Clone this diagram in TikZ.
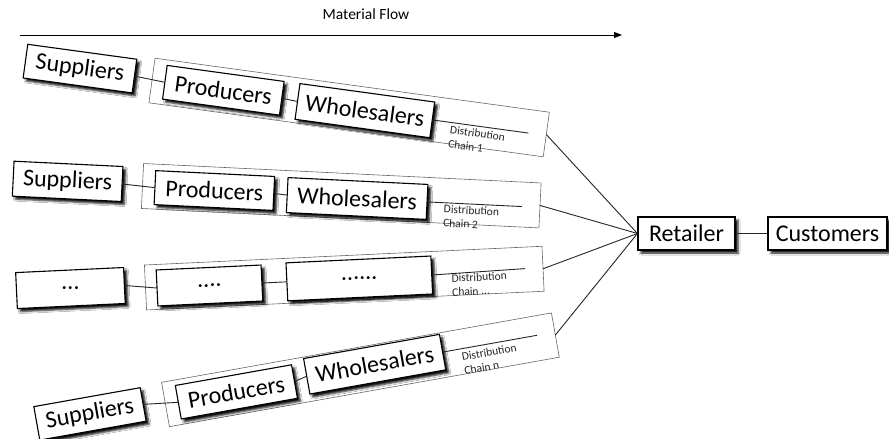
\documentclass[tikz,border=0pt]{standalone}
\usepackage{fontspec}
\setmainfont{Carlito}
\usetikzlibrary{shadows.blur,arrows.meta}
\begin{document}
\begin{tikzpicture}[x=1pt,y=-1pt,
  box/.style={draw=black,line width=1.1pt,fill=white,inner sep=0pt,
    font=\fontsize{24}{27}\selectfont,
    blur shadow={shadow xshift=3pt,shadow yshift=-3pt,shadow blur radius=2pt,shadow opacity=95}},
  frame/.style={draw=black!60,line width=0.6pt},
  link/.style={draw=black!85,line width=0.9pt},
  chainlbl/.style={font=\fontsize{11.5}{14}\selectfont,align=left,inner sep=0pt,anchor=north west,text=black!85},
]
\useasboundingbox[fill=white] (0,0) rectangle (889,439);

% Material flow
\node[font=\fontsize{15.5}{18}\selectfont,inner sep=0pt] (mf) at (366,14) {Material Flow};
\coordinate (mfa) at (20,35);
\coordinate (mfb) at (622,35);
\draw[line width=0.9pt,-{Triangle[length=8pt,width=6pt]}] (mfa) -- (mfb);

% Chain 1
\begin{scope}[shift={(152,80.5)},rotate=-7.8,transform shape]
  \draw[frame] (0,-22.5) rectangle (398,22.5);
  \node[box,minimum width=110pt,minimum height=34pt] (s1) at (-73,-2) {Suppliers};
  \node[box,minimum width=118pt,minimum height=34pt] (p1) at (72,0) {Producers};
  \node[box,minimum width=136pt,minimum height=36pt] (w1) at (215,1) {Wholesalers};
  \coordinate (l1) at (380,1);
  \coordinate (c1) at (398,0);
  \node[chainlbl] (d1) at (302,4) {Distribution\\Chain 1};
  \draw[link] (s1.east) -- (p1.west);
  \draw[link] (p1.east) -- (w1.west);
  \draw[link] (w1.east) -- (l1);
\end{scope}

% Chain 2
\begin{scope}[shift={(142.5,186)},rotate=-2.8,transform shape]
  \draw[frame] (0,-22.5) rectangle (398,22.5);
  \node[box,minimum width=109pt,minimum height=35pt] (s2) at (-75,-1) {Suppliers};
  \node[box,minimum width=119pt,minimum height=34pt] (p2) at (72,1) {Producers};
  \node[box,minimum width=140pt,minimum height=35pt] (w2) at (215,2) {Wholesalers};
  \coordinate (l2) at (380,2);
  \coordinate (c2) at (398,0);
  \node[chainlbl] (d2) at (302,4) {Distribution\\Chain 2};
  \draw[link] (s2.east) -- (p2.west);
  \draw[link] (p2.east) -- (w2.west);
  \draw[link] (w2.east) -- (l2);
\end{scope}

% Chain ...
\begin{scope}[shift={(145.5,287.5)},rotate=2.7,transform shape]
  \draw[frame] (0,-22.5) rectangle (398,22.5);
  \node[box,minimum width=108pt,minimum height=36pt] (s3) at (-75,-3) {...};
  \node[box,minimum width=105pt,minimum height=36pt] (p3) at (64,1) {....};
  \node[box,minimum width=145pt,minimum height=38pt] (w3) at (214,1) {......};
  \coordinate (l3) at (380,-1);
  \coordinate (c3) at (398,0);
  \node[chainlbl] (d3) at (306,1) {Distribution\\Chain ...};
  \draw[link] (s3.east) -- (p3.west);
  \draw[link] (p3.east) -- (w3.west);
  \draw[link] (w3.east) -- (l3);
\end{scope}

% Chain n
\begin{scope}[shift={(165.5,404.5)},rotate=10.1,transform shape]
  \draw[frame] (0,-22.5) rectangle (396,22.5);
  \node[box,minimum width=108pt,minimum height=34pt] (s4) at (-76,-4) {Suppliers};
  \node[box,minimum width=118pt,minimum height=34pt] (p4) at (72,0) {Producers};
  \node[box,minimum width=138pt,minimum height=36pt] (w4) at (213,-3) {Wholesalers};
  \coordinate (l4) at (378,-3);
  \coordinate (c4) at (396,0);
  \node[chainlbl] (d4) at (300,1) {Distribution\\Chain n};
  \draw[link] (s4.east) -- (p4.west);
  \draw[link] (p4.east) -- (w4.west);
  \draw[link] (w4.east) -- (l4);
\end{scope}

% Retailer and customers
\node[box,minimum width=97pt,minimum height=33pt] (ret) at (686.5,233.5) {Retailer};
\node[box,minimum width=119pt,minimum height=33pt] (cus) at (827.5,233.5) {Customers};
\draw[link] (ret.east) -- (cus.west);
\foreach \c in {c1,c2,c3,c4} \draw[link] (\c) -- (ret.west);
\end{tikzpicture}
\end{document}
